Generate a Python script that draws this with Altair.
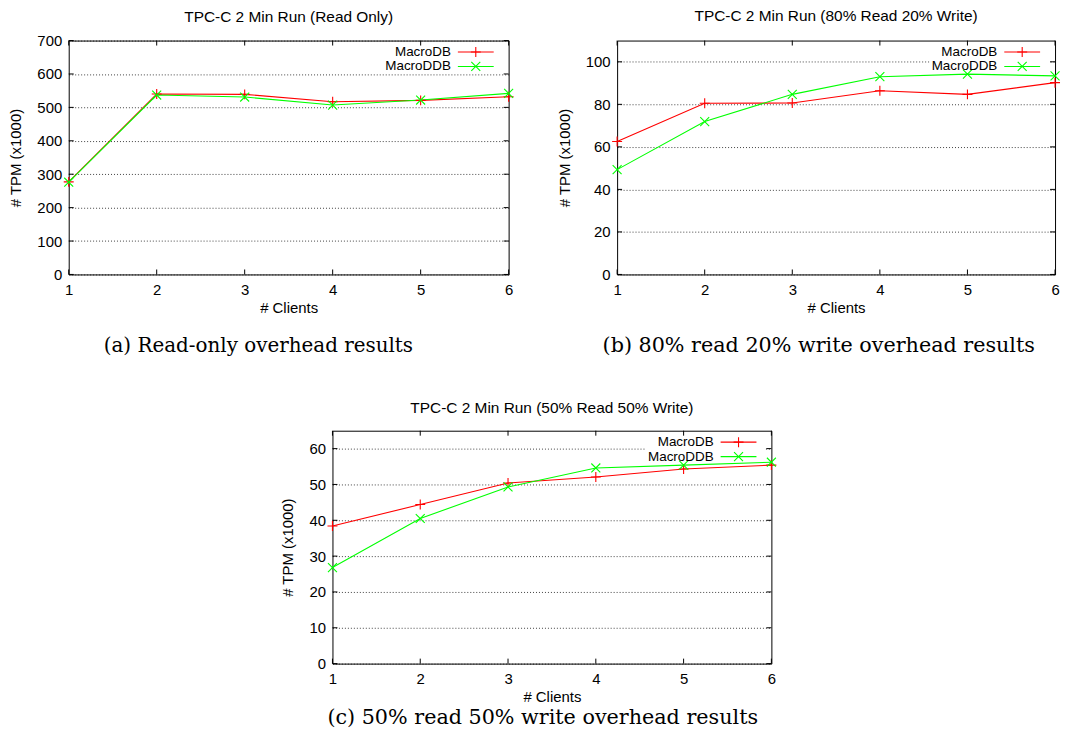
import altair as alt
import pandas as pd

# ---------------- data ----------------
CLIENTS = [1, 2, 3, 4, 5, 6]
SERIES = ["MacroDB", "MacroDDB"]
COLORS = ["#ff0000", "#00ff00"]

READ_ONLY_MACRODB = [277, 540, 539, 517, 521, 532]
READ_ONLY_MACRODDB = [276, 537, 531, 507, 522, 542]

RW80_MACRODB = [62.5, 80.5, 80.6, 86.4, 84.7, 90.2]
RW80_MACRODDB = [49.3, 71.9, 84.7, 93.0, 94.2, 93.4]

RW50_MACRODB = [38.4, 44.4, 50.4, 52.1, 54.3, 55.4]
RW50_MACRODDB = [26.8, 40.5, 49.3, 54.6, 55.4, 56.2]

YTICKS_A = [0, 100, 200, 300, 400, 500, 600, 700]
YTICKS_B = [0, 20, 40, 60, 80, 100]
YTICKS_C = [0, 10, 20, 30, 40, 50, 60]

TITLES = [
    "TPC-C 2 Min Run (Read Only)",
    "TPC-C 2 Min Run (80% Read 20% Write)",
    "TPC-C 2 Min Run (50% Read 50% Write)",
]
CAPTIONS = [
    "(a)  Read-only overhead results",
    "(b)  80% read 20% write overhead results",
    "(c)  50% read 50% write overhead results",
]

SANS = "Liberation Sans"
SERIF = "DejaVu Serif"
PLUS = "M-1,0L1,0M0,-1L0,1"
CROSS = "M-0.9,-0.9L0.9,0.9M-0.9,0.9L0.9,-0.9"
SHAPES = [PLUS, CROSS]
FS = 15


def panel(title, caption, db, ddb, yticks, ymax, w, h, title_offset,
          caption_offset=20, caption_dx=0, caption_size=20):
    df = pd.DataFrame({
        "clients": CLIENTS * 2,
        "tpm": db + ddb,
        "series": [SERIES[0]] * len(CLIENTS) + [SERIES[1]] * len(CLIENTS),
    })
    x = alt.X("clients:Q",
              scale=alt.Scale(domain=[CLIENTS[0], CLIENTS[-1]], nice=False, zero=False),
              axis=alt.Axis(values=CLIENTS, title="# Clients", grid=False, domain=False,
                            ticks=False, tickSize=0, labelPadding=8, titlePadding=3,
                            labelFlush=False, format="d", labelFont=SANS, labelFontSize=FS,
                            labelColor="black", titleFont=SANS, titleFontSize=FS,
                            titleFontWeight="normal", titleColor="black"))
    y = alt.Y("tpm:Q",
              scale=alt.Scale(domain=[0, ymax], nice=False),
              axis=alt.Axis(values=yticks, title="# TPM (x1000)", grid=True,
                            gridColor="#000000", gridDash=[1, 2], gridWidth=1,
                            gridOpacity=0.75, domain=False, ticks=False, tickSize=0,
                            labelPadding=7, titlePadding=13, labelFlush=False,
                            labelFont=SANS, labelFontSize=FS, labelColor="black",
                            titleFont=SANS, titleFontSize=FS, titleFontWeight="normal",
                            titleColor="black"))
    color = alt.Color("series:N", scale=alt.Scale(domain=SERIES, range=COLORS), legend=None)
    shape = alt.Shape("series:N", scale=alt.Scale(domain=SERIES, range=SHAPES), legend=None)

    base = alt.Chart(df)
    lines = base.mark_line(strokeWidth=1.1).encode(x=x, y=y, color=color)
    points = base.mark_point(size=100, strokeWidth=1.1, filled=False, opacity=1).encode(
        x=x, y=y, color=color, shape=shape)

    xt = pd.DataFrame({"clients": CLIENTS})
    yt = pd.DataFrame({"tpm": yticks})
    tick_layers = [
        alt.Chart(xt).mark_rule(color="black").encode(x=x, y=alt.value(0), y2=alt.value(5)),
        alt.Chart(xt).mark_rule(color="black").encode(x=x, y=alt.value(h), y2=alt.value(h - 5)),
        alt.Chart(yt).mark_rule(color="black").encode(y=y, x=alt.value(0), x2=alt.value(5)),
        alt.Chart(yt).mark_rule(color="black").encode(y=y, x=alt.value(w - 5), x2=alt.value(w)),
    ]

    one = pd.DataFrame({"k": [0]})
    bg = alt.Chart(one).mark_rect(color="white").encode(
        x=alt.value(w - 126), x2=alt.value(w - 6), y=alt.value(4), y2=alt.value(33))

    legend_layers = []
    for i, s in enumerate(SERIES):
        row_y = 11.5 + 14.5 * i
        sdf = pd.DataFrame({"series": [s]})
        legend_layers.append(
            alt.Chart(sdf).mark_text(align="right", baseline="middle", font=SANS,
                                     fontSize=13.5, color="black").encode(
                text="series:N", x=alt.value(w - 58), y=alt.value(row_y)))
        legend_layers.append(
            alt.Chart(sdf).mark_rule(color=COLORS[i], strokeWidth=1.1).encode(
                x=alt.value(w - 51), x2=alt.value(w - 15), y=alt.value(row_y)))
        legend_layers.append(
            alt.Chart(sdf).mark_point(shape=SHAPES[i], size=100, filled=False,
                                      strokeWidth=1.1, color=COLORS[i], opacity=1).encode(
                x=alt.value(w - 33), y=alt.value(row_y)))

    layered = alt.layer(bg, *tick_layers, lines, points, *legend_layers).properties(
        width=w, height=h,
        title=alt.TitleParams(title, font=SANS, fontSize=15.5, fontWeight="normal",
                              color="black", offset=title_offset, anchor="middle"))
    return alt.vconcat(layered).properties(
        title=alt.TitleParams(caption, orient="bottom", font=SERIF, fontSize=caption_size,
                              fontWeight="normal", color="black", offset=caption_offset,
                              anchor="middle", dx=caption_dx))


pa = panel(TITLES[0], CAPTIONS[0], READ_ONLY_MACRODB, READ_ONLY_MACRODDB,
           YTICKS_A, 700, 442, 235, title_offset=8, caption_dx=-4)
pb = panel(TITLES[1], CAPTIONS[1], RW80_MACRODB, RW80_MACRODDB,
           YTICKS_B, 110, 440, 235, title_offset=16, caption_dx=9, caption_size=20.8)
pc = panel(TITLES[2], CAPTIONS[2], RW50_MACRODB, RW50_MACRODDB,
           YTICKS_C, 65, 441, 234, title_offset=14, caption_offset=3, caption_dx=13,
           caption_size=20.8)

spacer = alt.Chart(pd.DataFrame({"k": [0]})).mark_point(opacity=0).encode(
    x=alt.value(0), y=alt.value(0)
).properties(width=212, height=1, view=alt.ViewBackground(strokeOpacity=0))

chart = alt.vconcat(
    alt.hconcat(pa, pb, spacing=40),
    alt.hconcat(spacer, pc, spacing=0),
    spacing=44,
).properties(
    padding={"left": 0, "top": -2, "right": 0, "bottom": 0},
    background="white",
).configure_view(
    stroke="black", strokeWidth=1
)

chart.save("out.html", embed_options={"renderer": "svg", "actions": False})
